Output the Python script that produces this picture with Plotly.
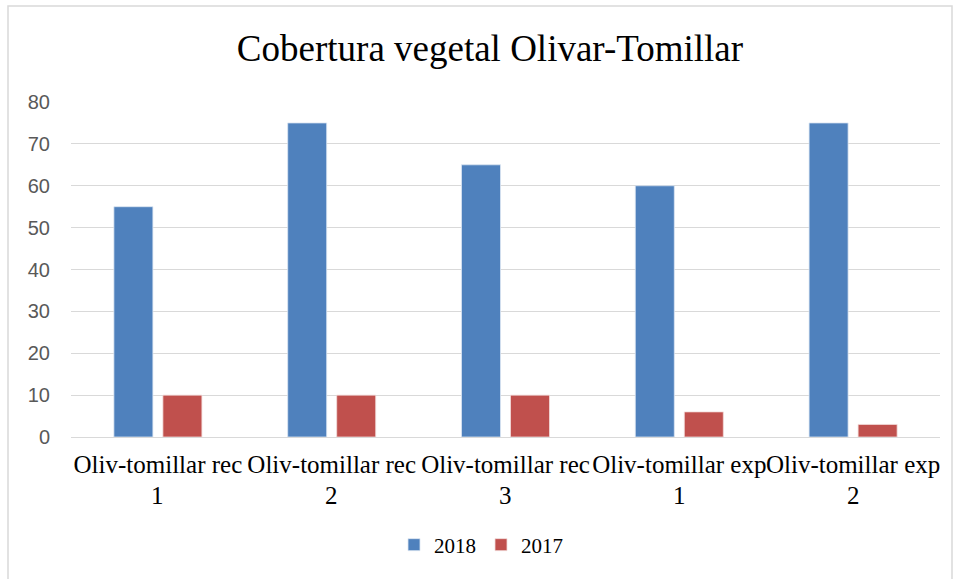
import plotly.graph_objects as go

cat_line1 = ["Oliv-tomillar rec", "Oliv-tomillar rec", "Oliv-tomillar rec",
             "Oliv-tomillar exp", "Oliv-tomillar exp"]
cat_line2 = ["1", "2", "3", "1", "2"]
categories = [a + " " + b for a, b in zip(cat_line1, cat_line2)]
values_2018 = [55, 75, 65, 60, 75]
values_2017 = [10, 10, 10, 6, 3]
y_ticks = [0, 10, 20, 30, 40, 50, 60, 70, 80]

fig = go.Figure()
fig.add_trace(go.Bar(name="2018", x=categories, y=values_2018,
                     marker=dict(color="#4F81BD", line=dict(color="#DCE6F2", width=0.8))))
fig.add_trace(go.Bar(name="2017", x=categories, y=values_2017,
                     marker=dict(color="#C0504D", line=dict(color="#F2DCDB", width=0.8))))

L, R, T, B = 71, 16, 102, 142
W, H = 956, 579
pw, ph = W - L - R, H - T - B

annotations = [dict(x=c, y=(437 - 495) / ph, xref="x", yref="paper", text=t2,
                    showarrow=False, xanchor="center", yanchor="middle",
                    font=dict(family="Liberation Serif", size=25, color="black"))
               for c, t2 in zip(categories, cat_line2)]

fig.update_layout(
    width=W, height=H,
    margin=dict(l=L, r=R, t=T, b=B, autoexpand=False),
    paper_bgcolor="white", plot_bgcolor="white",
    barmode="group", bargap=0.436, bargroupgap=0.204,
    title=dict(text="Cobertura vegetal Olivar-Tomillar", x=490 / W, xanchor="center",
               y=1 - 48 / H, yanchor="middle",
               font=dict(family="Liberation Serif", size=37, color="black")),
    legend=dict(orientation="h", x=(394 - L) / pw, xanchor="left", y=(437 - 545) / ph, yanchor="middle",
                font=dict(family="Liberation Serif", size=21, color="black"),
                itemwidth=30, traceorder="normal"),
    showlegend=True,
    xaxis=dict(showgrid=False, showline=False, ticks="", tickangle=0, automargin=False,
               tickvals=categories, ticktext=cat_line1, ticklabelstandoff=10,
               tickfont=dict(family="Liberation Serif", size=25, color="black")),
    yaxis=dict(range=[0, 80], tickvals=y_ticks, showgrid=True, gridcolor="#D9D9D9", gridwidth=1.3,
               zeroline=True, zerolinecolor="#D9D9D9", zerolinewidth=1.3, showline=False,
               ticks="", ticklabelstandoff=20, automargin=False,
               tickfont=dict(family="Liberation Sans", size=20, color="#595959")),
    annotations=annotations,
    shapes=[dict(type="rect", xref="paper", yref="paper",
                 x0=(8 - L) / pw, x1=(952 - L) / pw,
                 y0=(437 - 590) / ph, y1=(437 - 6) / ph,
                 line=dict(color="#D9D9D9", width=1.5), fillcolor="rgba(0,0,0,0)", layer="below")],
)

fig.write_html("out.html", config={"displayModeBar": False},
               post_script="document.body.style.margin='0px';")
